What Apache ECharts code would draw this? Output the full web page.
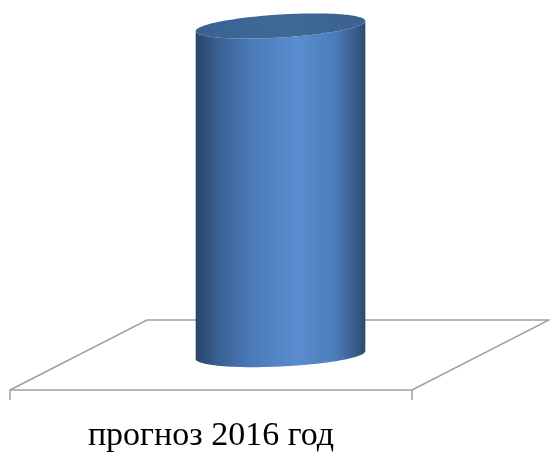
<!DOCTYPE html>
<html><head><meta charset="utf-8">
<script src="https://cdn.jsdelivr.net/npm/echarts@6/dist/echarts.min.js"></script>
<style>html,body{margin:0;padding:0;background:#fff}#c{width:550px;height:455px}</style>
</head><body><div id="c"></div>
<script>
const categories = ['прогноз 2016 год'];
const values = [100];
const yMax = 100;

const DEPTH_X = 137, DEPTH_Y = 70;
const FLOOR_COLOR = '#a0a0a0';

function ellipsePts(cx, cy, rx, ry, k, t0, t1, n) {
  const pts = [];
  for (let i = 0; i <= n; i++) {
    const t = t0 + (t1 - t0) * i / n;
    pts.push([cx + rx * Math.cos(t), cy + ry * Math.sin(t) + k * rx * Math.cos(t)]);
  }
  return pts;
}

function renderItem(params, api) {
  const cs = params.coordSys;
  const base = api.coord([api.value(0), 0]);
  const top = api.coord([api.value(0), api.value(1)]);
  const bw = api.size([1, 0])[0];
  const rx = bw * 0.211;
  const ry = 11.5;
  const cx = base[0] + DEPTH_X / 2 + 1;
  const cyB = base[1] - DEPTH_Y / 2;
  const cyT = top[1] - DEPTH_Y / 2;
  const kB = -0.047, kT = -0.06;
  const y0 = cs.y + cs.height;
  const floor = {
    type: 'polyline',
    shape: { points: [[cs.x, y0], [cs.x + DEPTH_X, y0 - DEPTH_Y], [cs.x + cs.width + DEPTH_X, y0 - DEPTH_Y], [cs.x + cs.width, y0]] },
    style: { stroke: FLOOR_COLOR, lineWidth: 1.5, fill: null },
    z2: 0
  };
  const bottomArc = ellipsePts(cx, cyB, rx, ry, kB, 0, Math.PI, 60);
  const topArc = ellipsePts(cx, cyT, rx, ry, kT, Math.PI, 0, 60);
  const body = {
    type: 'polygon',
    shape: { points: bottomArc.concat(topArc) },
    style: {
      fill: new echarts.graphic.LinearGradient(0, 0, 1, 0, [
        { offset: 0, color: '#2a4468' },
        { offset: 0.12, color: '#395e91' },
        { offset: 0.35, color: '#4b7dbc' },
        { offset: 0.6, color: '#5a8dd0' },
        { offset: 0.82, color: '#4c7dbb' },
        { offset: 0.95, color: '#395a88' },
        { offset: 1, color: '#2c4870' }
      ])
    },
    z2: 1
  };
  const topCap = {
    type: 'polygon',
    shape: { points: ellipsePts(cx, cyT, rx, ry, kT, 0, Math.PI * 2, 120) },
    style: {
      fill: new echarts.graphic.LinearGradient(0, 0, 1, 0, [
        { offset: 0, color: '#3a6193' },
        { offset: 0.5, color: '#3f6899' },
        { offset: 1, color: '#3b6290' }
      ])
    },
    z2: 2
  };
  return { type: 'group', children: [floor, body, topCap] };
}

const chart = echarts.init(document.getElementById('c'));
chart.setOption({
  animation: false,
  grid: { left: 10, right: 138, top: 61, bottom: 65, containLabel: false },
  xAxis: {
    type: 'category',
    data: categories,
    axisLine: { lineStyle: { color: FLOOR_COLOR, width: 1.5 } },
    axisTick: { show: true, length: 10, lineStyle: { color: FLOOR_COLOR, width: 1.5 } },
    axisLabel: { fontFamily: 'Liberation Serif', fontSize: 34, color: '#000', margin: 29 }
  },
  yAxis: { type: 'value', min: 0, max: yMax, show: false },
  series: [{
    type: 'custom',
    clip: false,
    renderItem: renderItem,
    data: categories.map((c, i) => [i, values[i]])
  }]
});
</script></body></html>
